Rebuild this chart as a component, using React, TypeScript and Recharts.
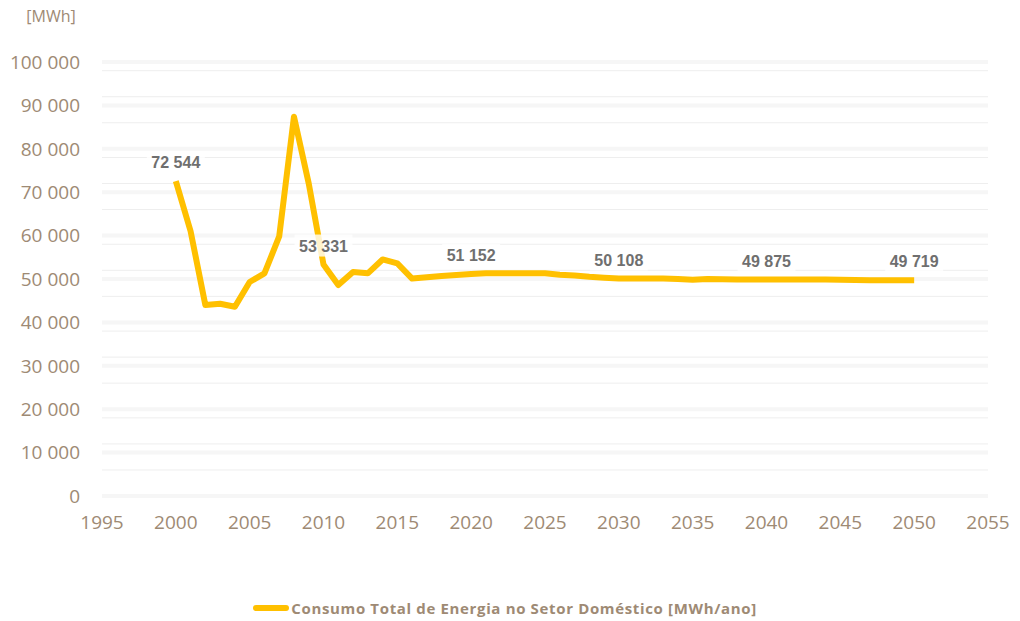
import React from 'react';
import { LineChart, Line, XAxis, YAxis, CartesianGrid, ReferenceLine, LabelList, Legend } from 'recharts';

const years = [2000,2001,2002,2003,2004,2005,2006,2007,2008,2009,2010,2011,2012,2013,2014,2015,2016,2017,2018,2019,2020,2021,2022,2023,2024,2025,2026,2027,2028,2029,2030,2031,2032,2033,2034,2035,2036,2037,2038,2039,2040,2041,2042,2043,2044,2045,2046,2047,2048,2049,2050];
const consumo = [72544,61000,44000,44300,43600,49300,51300,59800,87400,72000,53331,48600,51600,51300,54500,53600,50100,50400,50700,50900,51152,51300,51300,51300,51300,51300,51000,50800,50500,50300,50108,50100,50100,50100,50000,49800,50000,49950,49900,49900,49875,49900,49900,49900,49900,49850,49750,49720,49720,49719,49719];
const labelledYears = [2000, 2010, 2020, 2030, 2040, 2050];
const xTicks = [1995,2000,2005,2010,2015,2020,2025,2030,2035,2040,2045,2050,2055];
const yTicks = [0,10000,20000,30000,40000,50000,60000,70000,80000,90000,100000];
const minorTicks = Array.from({ length: 51 }, (_, i) => i * 2000).filter(v => v % 10000 !== 0);
const seriesName = 'Consumo Total de Energia no Setor Doméstico [MWh/ano]';

const data = years.map((y, i) => ({ year: y, value: consumo[i], label: labelledYears.includes(y) ? consumo[i] : null }));

const fmt = (v: number) => String(v).replace(/\B(?=(\d{3})+(?!\d))/g, ' ');

const axisColor = '#9E8A74';
const font = "'Open Sans', sans-serif";

const renderLabel = (props: any) => {
  const { x, y, value } = props;
  if (value == null) return null;
  const txt = fmt(value);
  const w = txt.length * 9;
  return (
    <g>
      <rect x={x - w / 2 - 2} y={y - 30} width={w + 4} height={22} fill="#fff" fillOpacity={0.8} />
      <text x={x} y={y - 13} textAnchor="middle" fontFamily="'Liberation Sans', Arial, sans-serif" fontWeight="bold" fontSize={16} fill="#6f6f6f">{txt}</text>
    </g>
  );
};

const renderLegend = () => (
  <div style={{ display: 'flex', justifyContent: 'center', alignItems: 'center', fontFamily: font, fontWeight: 700, fontSize: 15, color: axisColor, letterSpacing: 0.65, paddingLeft: 22 }}>
    <span style={{ display: 'inline-block', width: 36, height: 6, borderRadius: 3, background: '#FFC000', marginRight: 2 }} />
    <span>{seriesName}</span>
  </div>
);

export default function App() {
  return (
    <div style={{ position: 'absolute', left: 0, top: 0, background: '#fff' }}>
      <LineChart width={1020} height={621} data={data} margin={{ top: 62, right: 32, left: 0, bottom: 65 }}>
        <CartesianGrid horizontal vertical={false} horizontalValues={minorTicks} stroke="#eeeeee" strokeWidth={1} />
        {yTicks.map(t => (
          <ReferenceLine key={t} y={t} stroke="#f6f6f6" strokeWidth={4} />
        ))}
        <XAxis dataKey="year" type="number" domain={[1995, 2055]} ticks={xTicks} axisLine={false} tickLine={false}
          tick={{ fill: axisColor, fontSize: 19, fontFamily: font }} tickMargin={14} height={40} />
        <YAxis type="number" domain={[0, 100000]} ticks={yTicks} axisLine={false} tickLine={false} width={102}
          tickFormatter={fmt} tick={{ fill: axisColor, fontSize: 19, fontFamily: font }} tickMargin={16}
          label={{ content: (p: any) => (<text x={51} y={p.viewBox.y - 40} textAnchor="middle" fill={axisColor} fontSize={16} fontFamily={font}>[MWh]</text>) }} />
        <Legend verticalAlign="bottom" content={renderLegend} wrapperStyle={{ bottom: 3 }} />
        <Line type="linear" dataKey="value" name={seriesName} stroke="#FFC000" strokeWidth={6} dot={false} isAnimationActive={false} strokeLinejoin="round">
          <LabelList dataKey="label" content={renderLabel} />
        </Line>
      </LineChart>
    </div>
  );
}
